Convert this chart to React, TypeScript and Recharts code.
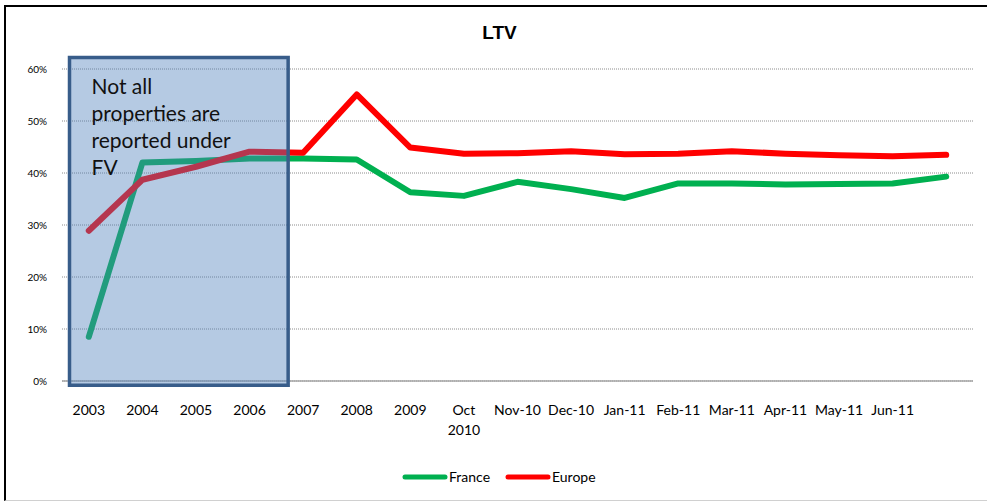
import React from 'react';
import { LineChart, Line, XAxis, YAxis, CartesianGrid, ReferenceArea, Legend } from 'recharts';

const categories = ['2003', '2004', '2005', '2006', '2007', '2008', '2009', 'Oct\n2010', 'Nov-10', 'Dec-10', 'Jan-11', 'Feb-11', 'Mar-11', 'Apr-11', 'May-11', 'Jun-11', ''];
const france = [0.085, 0.42, 0.423, 0.428, 0.428, 0.426, 0.363, 0.356, 0.383, 0.369, 0.352, 0.38, 0.38, 0.378, 0.379, 0.38, 0.393];
const europe = [0.289, 0.387, 0.412, 0.441, 0.439, 0.551, 0.449, 0.437, 0.438, 0.442, 0.436, 0.437, 0.442, 0.437, 0.434, 0.432, 0.435];
const yTicks = [0, 0.1, 0.2, 0.3, 0.4, 0.5, 0.6];
const xTicks = [0, 1, 2, 3, 4, 5, 6, 7, 8, 9, 10, 11, 12, 13, 14, 15];
const noteLines = ['Not all', 'properties are', 'reported under', 'FV'];
const noteRangeX = [-0.36, 3.72];
const noteRangeY = [-0.008, 0.622];
const title = 'LTV';
const seriesNames = { france: 'France', europe: 'Europe' };
const colors = { france: '#00B050', europe: '#FF0000' };

const rows = categories.map((c, i) => ({ x: i, france: france[i], europe: europe[i] }));

const FONT = 'Lato, "Open Sans", sans-serif';
const X_DOMAIN: [number, number] = [-0.5, 16.5];
const Y_DOMAIN: [number, number] = [0, 0.6];

const XTick = (props: any) => {
  const { x, y, payload } = props;
  const label = categories[payload.value] ?? '';
  const lines = label.split('\n');
  return (
    <text x={x} y={y} textAnchor="middle" fill="#000" fontSize={14} fontFamily={FONT}>
      {lines.map((l: string, i: number) => (
        <tspan key={i} x={x} dy={i === 0 ? 34 : 20}>{l}</tspan>
      ))}
    </text>
  );
};

const NoteLabel = (props: any) => {
  const vb = props.viewBox || {};
  const x0 = (vb.x ?? 0) + 22;
  const y0 = (vb.y ?? 0) + 36;
  return (
    <text x={x0} y={y0} fill="#111" fontSize={21} fontFamily={FONT}>
      {noteLines.map((l, i) => (
        <tspan key={i} x={x0} dy={i === 0 ? 0 : 27}>{l}</tspan>
      ))}
    </text>
  );
};

const LegendContent = () => (
  <div style={{ display: 'flex', alignItems: 'center', fontFamily: FONT, fontSize: 14, color: '#000' }}>
    <svg width={48} height={10}>
      <line x1={4} y1={5} x2={44} y2={5} stroke={colors.france} strokeWidth={5} strokeLinecap="round" />
    </svg>
    <span>{seriesNames.france}</span>
    <span style={{ display: 'inline-block', width: 14 }} />
    <svg width={48} height={10}>
      <line x1={4} y1={5} x2={44} y2={5} stroke={colors.europe} strokeWidth={5} strokeLinecap="round" />
    </svg>
    <span>{seriesNames.europe}</span>
  </div>
);

export default function App() {
  return (
    <div style={{ position: 'absolute', left: 0, top: 0, width: 987, height: 504, background: '#fff', overflow: 'hidden' }}>
      <div
        style={{
          position: 'absolute', left: 4, top: 5, width: 990, height: 496, boxSizing: 'border-box',
          borderTop: '2px solid #000', borderLeft: '2px solid #000', borderBottom: '1px solid #d0d0d0',
        }}
      />
      <div
        style={{
          position: 'absolute', left: 0, top: 22, width: 999, textAlign: 'center', lineHeight: 'normal',
          fontFamily: '"Liberation Sans", Arial, sans-serif', fontWeight: 'bold', fontSize: 19, color: '#000',
        }}
      >
        {title}
      </div>
      <div style={{ position: 'absolute', left: 0, top: 0 }}>
        <LineChart width={987} height={504} data={rows} margin={{ top: 69, right: 14, bottom: 83, left: 12 }}>
          <CartesianGrid vertical={false} stroke="#8c8c8c" strokeDasharray="1 1" />
          <XAxis
            dataKey="x"
            type="number"
            domain={X_DOMAIN}
            ticks={xTicks}
            interval={0}
            tick={<XTick />}
            tickLine={false}
            tickSize={0}
            tickMargin={0}
            axisLine={{ stroke: '#a6a6a6', strokeWidth: 1.5 }}
            height={40}
            allowDataOverflow
          />
          <YAxis
            domain={Y_DOMAIN}
            ticks={yTicks}
            tickFormatter={(v: number) => `${Math.round(v * 100)}%`}
            tick={{ fill: '#000', fontSize: 10, fontFamily: FONT }}
            axisLine={false}
            tickLine={false}
            tickSize={0}
            tickMargin={15}
            width={50}
          />
          <Line type="linear" dataKey="france" name={seriesNames.france} stroke={colors.france} strokeWidth={6} dot={false} activeDot={false} strokeLinecap="round" strokeLinejoin="round" isAnimationActive={false} />
          <Line type="linear" dataKey="europe" name={seriesNames.europe} stroke={colors.europe} strokeWidth={6} dot={false} activeDot={false} strokeLinecap="round" strokeLinejoin="round" isAnimationActive={false} />
          <Legend
            verticalAlign="middle"
            align="center"
            content={<LegendContent />}
            wrapperStyle={{ position: 'absolute', top: 468, left: 401, width: 300, height: 20 }}
          />
        </LineChart>
      </div>
      {/* overlay chart: same scales, draws the semi-transparent note box above the lines */}
      <div style={{ position: 'absolute', left: 0, top: 0, pointerEvents: 'none' }}>
        <LineChart width={987} height={504} data={rows} margin={{ top: 69, right: 14, bottom: 83, left: 12 }}>
          <XAxis dataKey="x" type="number" domain={X_DOMAIN} ticks={xTicks} tick={false} axisLine={false} tickLine={false} height={40} allowDataOverflow />
          <YAxis domain={Y_DOMAIN} ticks={yTicks} tick={false} axisLine={false} tickLine={false} width={50} />
          <Line type="linear" dataKey="france" stroke="transparent" strokeWidth={0} dot={false} activeDot={false} isAnimationActive={false} legendType="none" />
          <ReferenceArea
            x1={noteRangeX[0]}
            x2={noteRangeX[1]}
            y1={noteRangeY[0]}
            y2={noteRangeY[1]}
            ifOverflow="visible"
            fill="#4F81BD"
            fillOpacity={0.42}
            stroke="#385D8A"
            strokeWidth={3.5}
            label={<NoteLabel />}
          />
        </LineChart>
      </div>
    </div>
  );
}
